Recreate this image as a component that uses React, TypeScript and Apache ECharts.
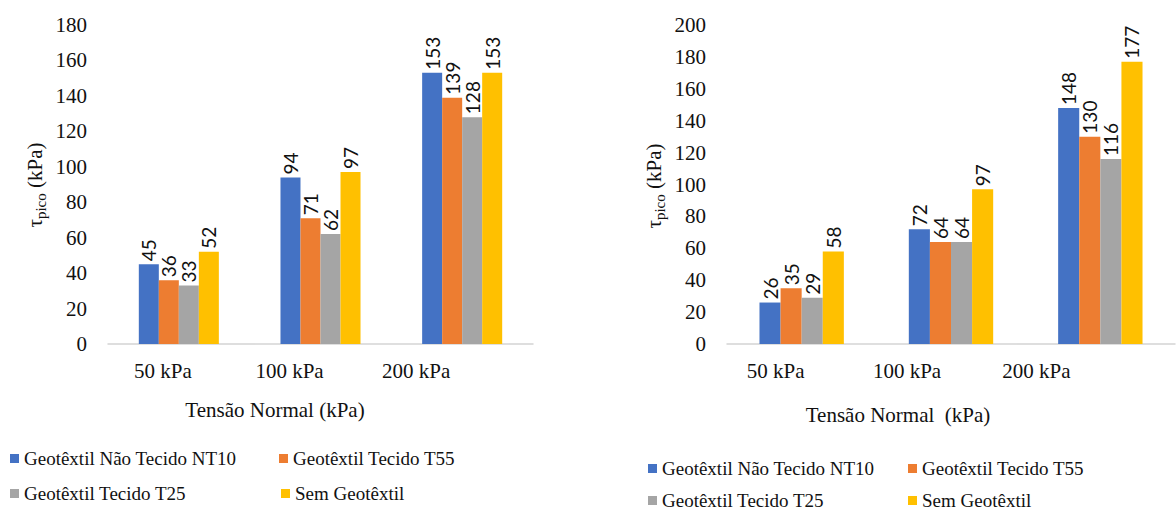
import React, { useEffect, useRef } from "react";
import * as echarts from "echarts";

// Categories (normal stress levels) and series names
const categories = ["50 kPa", "100 kPa", "200 kPa"];
const seriesNames = [
  "Geotêxtil Não Tecido NT10",
  "Geotêxtil Tecido T55",
  "Geotêxtil Tecido T25",
  "Sem Geotêxtil",
];
const colors = ["#4472C4", "#ED7D31", "#A5A5A5", "#FFC000"];

// Left panel: peak shear stress (kPa)
const leftNT10 = [45, 94, 153];
const leftT55 = [36, 71, 139];
const leftT25 = [33, 62, 128];
const leftSem = [52, 97, 153];

// Right panel: peak shear stress (kPa)
const rightNT10 = [26, 72, 148];
const rightT55 = [35, 64, 130];
const rightT25 = [29, 64, 116];
const rightSem = [58, 97, 177];

const leftYMax = 180;
const rightYMax = 200;
const yInterval = 20;

const SERIF = "Liberation Serif";
const SANS = "Lato";

// horizontal shifts for the category labels (px, negative = left)
const leftCatShift = [-16, -31, -46];
const rightCatShift = [-26, -44, -64];

function catAxis(gridIndex: number, shifts: number[]) {
  const rich: Record<string, any> = {};
  shifts.forEach((s, i) => {
    rich["c" + i] = {
      fontFamily: SERIF,
      fontSize: 21,
      color: "#111",
      padding: s < 0 ? [0, -2 * s, 0, 0] : [0, 0, 0, 2 * s],
    };
  });
  return {
    type: "category",
    gridIndex,
    data: categories,
    axisLine: { show: true, lineStyle: { color: "#d4d4d4", width: 1.5 } },
    axisTick: { show: false },
    axisLabel: {
      interval: 0,
      hideOverlap: false,
      margin: 16,
      fontFamily: SERIF,
      fontSize: 21,
      formatter: (v: string, i: number) => `{c${i}|${v}}`,
      rich,
    },
  };
}

function valAxis(gridIndex: number, max: number) {
  return {
    type: "value",
    gridIndex,
    min: 0,
    max,
    interval: yInterval,
    axisLine: { show: false },
    axisTick: { show: false },
    splitLine: { show: false },
    axisLabel: {
      margin: 21,
      fontFamily: SERIF,
      fontSize: 21,
      color: "#111",
    },
  };
}

function barSeries(name: string, color: string, data: number[], idx: number) {
  return {
    type: "bar",
    name,
    xAxisIndex: idx,
    yAxisIndex: idx,
    data,
    barGap: "0%",
    barCategoryGap: "43.5%",
    itemStyle: { color },
    label: {
      show: true,
      position: "top",
      rotate: 90,
      align: "left",
      verticalAlign: "middle",
      distance: 3,
      fontFamily: SANS,
      fontSize: 19,
      color: "#111",
    },
  };
}

function legendItem(name: string, left: number, centerY: number) {
  return {
    data: [name],
    left,
    top: centerY - 11,
    orient: "horizontal",
    icon: "rect",
    itemWidth: 9,
    itemHeight: 9,
    padding: 0,
    selectedMode: false,
    textStyle: { fontFamily: SERIF, fontSize: 19, color: "#111" },
  };
}

function yTitle(x: number, y: number) {
  return {
    type: "text",
    x,
    y,
    rotation: Math.PI / 2,
    style: {
      text: "{t|τ}{s|pico}{t| (kPa)}",
      align: "center",
      verticalAlign: "middle",
      fontFamily: SERIF,
      rich: {
        t: { fontFamily: SERIF, fontSize: 21, lineHeight: 26, verticalAlign: "middle", fill: "#111" },
        s: { fontFamily: SERIF, fontSize: 15, lineHeight: 15, verticalAlign: "bottom", fill: "#111" },
      },
    },
  };
}

function xTitle(x: number, y: number, text: string) {
  return {
    type: "text",
    x,
    y,
    style: {
      text,
      fontFamily: SERIF,
      fontSize: 21,
      fill: "#111",
      align: "center",
      verticalAlign: "middle",
    },
  };
}

export default function App() {
  const ref = useRef<HTMLDivElement>(null);

  useEffect(() => {
    if (!ref.current) return;
    const chart = echarts.init(ref.current, undefined, { renderer: "svg" });

    const leftData = [leftNT10, leftT55, leftT25, leftSem];
    const rightData = [rightNT10, rightT55, rightT25, rightSem];

    chart.setOption({
      animation: false,
      backgroundColor: "#ffffff",
      textStyle: { fontFamily: SERIF },
      grid: [
        { left: 108, right: 643, top: 25, bottom: 166 },
        { left: 727, right: 1, top: 25, bottom: 166 },
      ],
      xAxis: [catAxis(0, leftCatShift), catAxis(1, rightCatShift)],
      yAxis: [valAxis(0, leftYMax), valAxis(1, rightYMax)],
      legend: [
        legendItem(seriesNames[0], 10, 460),
        legendItem(seriesNames[1], 279, 460),
        legendItem(seriesNames[2], 10, 495),
        legendItem(seriesNames[3], 281, 495),
        legendItem(seriesNames[0], 648, 470),
        legendItem(seriesNames[1], 908, 470),
        legendItem(seriesNames[2], 648, 502),
        legendItem(seriesNames[3], 908, 502),
      ],
      graphic: [
        yTitle(35, 185),
        yTitle(654, 186),
        xTitle(275, 410, "Tensão Normal (kPa)"),
        xTitle(898, 415, "Tensão Normal  (kPa)"),
      ],
      series: [
        ...seriesNames.map((n, i) => barSeries(n, colors[i], leftData[i], 0)),
        ...seriesNames.map((n, i) => barSeries(n, colors[i], rightData[i], 1)),
      ],
    });

    return () => chart.dispose();
  }, []);

  return (
    <div
      ref={ref}
      style={{ position: "absolute", left: 0, top: 0, width: 1176, height: 510 }}
    />
  );
}
